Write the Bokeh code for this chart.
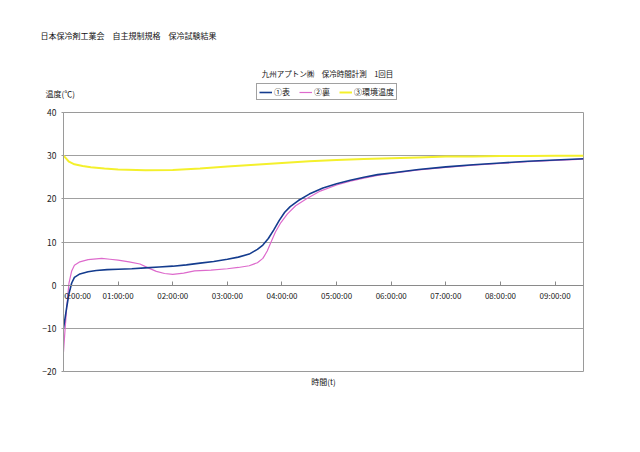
import numpy as np
from bokeh.plotting import figure
from bokeh.layouts import column, row
from bokeh.models import (FixedTicker, Legend, LegendItem, Label, Range1d, Title)
from bokeh.embed import file_html
from bokeh.resources import INLINE

# ---- data (hours, degC) ----
t_front = [0, 0.03, 0.06, 0.1, 0.15, 0.2, 0.3, 0.45, 0.6, 0.8, 1.0, 1.25, 1.5, 1.75, 2.0, 2.25,
           2.5, 2.75, 3.0, 3.2, 3.4, 3.55, 3.65, 3.75, 3.85, 3.95, 4.05, 4.15, 4.3, 4.5, 4.75,
           5.0, 5.25, 5.5, 5.75, 6.0, 6.5, 7.0, 7.5, 8.0, 8.5, 9.0, 9.52]
v_front = [-10.0, -7.5, -5.0, -2.0, 0.5, 1.8, 2.6, 3.1, 3.4, 3.6, 3.7, 3.8, 4.0, 4.2, 4.4, 4.7,
           5.1, 5.5, 6.0, 6.5, 7.2, 8.3, 9.3, 10.8, 12.8, 15.0, 16.9, 18.2, 19.6, 21.1, 22.5,
           23.5, 24.3, 25.0, 25.6, 26.0, 26.8, 27.4, 27.9, 28.3, 28.7, 29.0, 29.3]

t_back = [0, 0.03, 0.06, 0.1, 0.15, 0.2, 0.3, 0.45, 0.6, 0.7, 0.85, 1.0, 1.2, 1.4, 1.55, 1.7,
          1.85, 2.0, 2.2, 2.4, 2.7, 3.0, 3.2, 3.4, 3.55, 3.65, 3.73, 3.8, 3.88, 3.98, 4.1, 4.25,
          4.45, 4.7, 5.0, 5.25, 5.5, 5.75, 6.0, 6.5, 7.0, 7.5, 8.0, 8.5, 9.0, 9.52]
v_back = [-15.5, -10.0, -5.0, 0.5, 3.3, 4.6, 5.4, 5.9, 6.1, 6.2, 6.0, 5.8, 5.4, 4.9, 4.0, 3.2,
          2.7, 2.5, 2.8, 3.3, 3.5, 3.8, 4.1, 4.5, 5.2, 6.2, 7.9, 10.0, 12.3, 14.5, 16.5, 18.4,
          20.0, 21.8, 23.2, 24.1, 24.8, 25.4, 25.9, 26.7, 27.3, 27.8, 28.2, 28.6, 28.9, 29.2]

t_env = [0, 0.05, 0.1, 0.2, 0.35, 0.5, 0.75, 1.0, 1.5, 2.0, 2.5, 3.0, 3.5, 4.0, 4.5, 5.0,
         5.5, 6.0, 6.5, 7.0, 7.5, 8.0, 8.5, 9.0, 9.52]
v_env = [30.0, 29.3, 28.6, 28.0, 27.6, 27.3, 27.0, 26.8, 26.6, 26.7, 27.0, 27.5, 27.9, 28.3,
         28.7, 29.0, 29.2, 29.4, 29.6, 29.8, 29.8, 29.9, 29.9, 30.0, 30.0]

x_ticks = [0, 1, 2, 3, 4, 5, 6, 7, 8, 9]
x_tick_labels = ["00:00:00", "01:00:00", "02:00:00", "03:00:00", "04:00:00",
                 "05:00:00", "06:00:00", "07:00:00", "08:00:00", "09:00:00"]
y_ticks = [-20, -10, 0, 10, 20, 30, 40]

series_names = ["①表", "②裏", "③環境温度"]
series_colors = ["#143c8e", "#dd6acc", "#f4f02c"]
series_widths = [1.6, 1.2, 2.0]

page_title = "日本保冷剤工業会　自主規制規格　保冷試験結果"
chart_title = "九州アプトン㈱　保冷時間計測　1回目"
y_title = "温度(℃)"
x_title = "時間(t)"

JP = "Noto Sans CJK JP"
W = 624
HEAD_H = 104
MAIN_H = 332

# ---------------- header (titles + legend) ----------------
head = figure(width=W, height=HEAD_H, output_backend="svg", toolbar_location=None,
              title_location=None, x_axis_type=None, y_axis_type=None, min_border=0,
              x_range=Range1d(0, 1), y_range=Range1d(0, 1))
head.outline_line_color = None
head.background_fill_color = "white"
head.border_fill_color = "white"

# legend keys (no data inside the header's range)
proxies = [head.line(np.array([np.nan]), np.array([np.nan]), line_color=c, line_width=w)
           for c, w in zip(series_colors, series_widths)]

legend = Legend(items=[LegendItem(label=n, renderers=[r]) for n, r in zip(series_names, proxies)],
                orientation="horizontal", location=(256, 4),
                label_text_font=JP, label_text_font_size="8px",
                label_text_color="#111111",
                glyph_width=13, glyph_height=8, label_height=8, label_standoff=2,
                spacing=5, padding=2, margin=0,
                border_line_color="#444444", border_line_width=1,
                background_fill_color="white", background_fill_alpha=1)
head.add_layout(legend, "center")

def add_label(fig, text, x, y, size, align="left"):
    fig.add_layout(Label(x=x, y=y, x_units="screen", y_units="screen", text=text,
                         text_font=JP, text_font_size=size, text_color="#111111",
                         text_align=align, text_baseline="middle"))

add_label(head, page_title, 40, HEAD_H - 35, "8px")
add_label(head, chart_title, 327, HEAD_H - 73, "7.5px", align="center")
add_label(head, y_title, 45, HEAD_H - 93, "8px")

# ---------------- main chart ----------------
p = figure(width=W, height=MAIN_H, output_backend="svg", toolbar_location=None,
           title_location=None,
           x_range=Range1d(0, 9.52), y_range=Range1d(-20, 40),
           min_border_left=63, min_border_right=41, min_border_top=8, min_border_bottom=65)
p.background_fill_color = "white"
p.border_fill_color = "white"
p.outline_line_color = "#9a9a9a"
p.outline_line_width = 1

p.xgrid.grid_line_color = None
p.ygrid.grid_line_color = "#a0a0a0"
p.ygrid.ticker = FixedTicker(ticks=y_ticks)

# x axis crosses at 0; the first label is padded so it stays inside the plot area
overrides = {t: l for t, l in zip(x_ticks, x_tick_labels)}
overrides[x_ticks[0]] = "\u2003\u2003\u2003" + x_tick_labels[0]

p.xaxis.fixed_location = 0
p.xaxis.ticker = FixedTicker(ticks=x_ticks)
p.xaxis.major_label_overrides = overrides
p.xaxis.axis_line_color = "#8a8a8a"
p.xaxis.major_tick_line_color = "#8a8a8a"
p.xaxis.major_tick_in = 4
p.xaxis.major_tick_out = 0
p.xaxis.minor_tick_line_color = None
p.xaxis.major_label_text_font = JP
p.xaxis.major_label_text_font_size = "8px"
p.xaxis.major_label_text_color = "#222222"
p.xaxis.major_label_standoff = 5

p.yaxis.ticker = FixedTicker(ticks=y_ticks)
p.yaxis.axis_line_color = "#9a9a9a"
p.yaxis.major_tick_line_color = "#9a9a9a"
p.yaxis.major_tick_in = 0
p.yaxis.major_tick_out = 2
p.yaxis.minor_tick_line_color = None
p.yaxis.major_label_text_font = JP
p.yaxis.major_label_text_font_size = "8.5px"
p.yaxis.major_label_text_color = "#222222"
p.yaxis.major_label_standoff = 5

p.line(t_env, v_env, line_color=series_colors[2], line_width=series_widths[2])
p.line(t_back, v_back, line_color=series_colors[1], line_width=series_widths[1])
p.line(t_front, v_front, line_color=series_colors[0], line_width=series_widths[0])

p.add_layout(Title(text=x_title, align="center", text_font=JP, text_font_size="8px",
                   text_font_style="normal", text_color="#111111", standoff=4), "below")

open("out.html", "w").write(file_html(column(row(head), p), INLINE))
